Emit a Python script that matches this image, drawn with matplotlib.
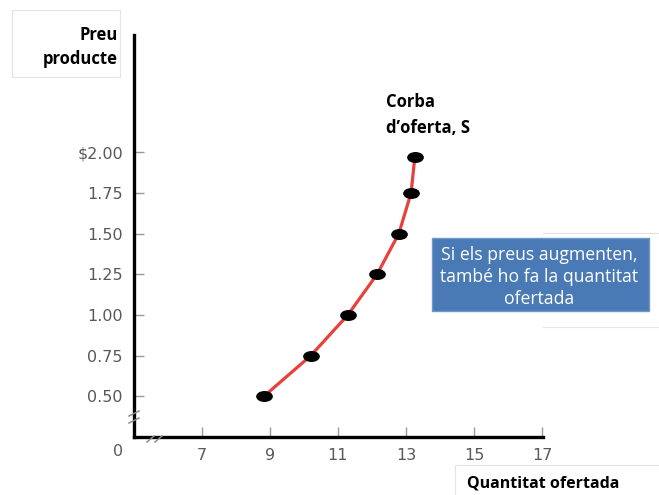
import matplotlib

matplotlib.use("Agg")
import matplotlib.pyplot as plt  # noqa: E402
from matplotlib.lines import Line2D  # noqa: E402
from matplotlib.patches import Rectangle  # noqa: E402
from matplotlib.path import Path  # noqa: E402
from matplotlib.transforms import Affine2D  # noqa: E402

W, H = 659, 495

# ---------------------------------------------------------------------------
# Data
# ---------------------------------------------------------------------------
quantity = [8.82, 10.2, 11.29, 12.15, 12.79, 13.15, 13.26]
price = [0.50, 0.75, 1.00, 1.25, 1.50, 1.75, 1.97]

x_ticks = [7, 9, 11, 13, 15, 17]
y_ticks = [0.50, 0.75, 1.00, 1.25, 1.50, 1.75, 2.00]
y_tick_labels = ["0.50", "0.75", "1.00", "1.25", "1.50", "1.75", "$2.00"]

y_title = "Preu\nproducte"
x_title = "Quantitat ofertada"
curve_label = "Corba\nd\u2019oferta, S"
note_text = "Si els preus augmenten,\ntamb\u00e9 ho fa la quantitat\nofertada"

BOLD = ["Open Sans", "DejaVu Sans"]
TICK_GRAY = "#595959"


def fx(px):
    return px / W


def fy(py):
    return 1 - py / H


fig = plt.figure(figsize=(W / 100, H / 100), dpi=100)
ax = fig.add_axes([fx(134), fy(437), (543 - 134) / W, (437 - 35) / H])

ellipse = Path.unit_circle().transformed(Affine2D().scale(1.6, 1.0))
ax.plot(quantity, price, color="#e8413c", lw=2.3, zorder=2,
        solid_capstyle="round")
ax.plot(quantity, price, ls="none", marker=ellipse, ms=11,
        color="black", zorder=3)

ax.set_xlim(5, 17.03)
ax.set_ylim(0.25, 2.72)

for side in ("top", "right"):
    ax.spines[side].set_visible(False)
for side in ("left", "bottom"):
    ax.spines[side].set_linewidth(2.4)
    ax.spines[side].set_color("black")

ax.set_xticks(x_ticks)
ax.set_xticklabels([str(t) for t in x_ticks])
ax.set_yticks(y_ticks)
ax.set_yticklabels(y_tick_labels)
ax.tick_params(direction="in", length=7, width=1, color="#999999",
               labelcolor=TICK_GRAY, labelsize=11.5, pad=8)
for lab in ax.get_xticklabels() + ax.get_yticklabels():
    lab.set_family("DejaVu Sans")

# "0" at the origin, left of the broken axes
fig.text(fx(118), fy(452), "0", ha="center", va="center",
         color=TICK_GRAY, fontsize=11.5)

# axis break marks
brk = dict(color="#8c8c8c", lw=1.1, transform=fig.transFigure)
for y0 in (416, 423):
    fig.add_artist(Line2D([fx(129), fx(139)], [fy(y0), fy(y0 - 5)], **brk))
for x0 in (147, 155):
    fig.add_artist(Line2D([fx(x0), fx(x0 + 7)], [fy(442), fy(436)], **brk))

# text boxes
light = dict(fc="white", ec="#e4e4e4", lw=0.8, transform=fig.transFigure,
             zorder=0)
fig.add_artist(Rectangle((fx(12), fy(77)), fx(108), (77 - 10) / H, **light))
fig.text(fx(118), fy(47), y_title, ha="right", va="center", fontsize=12,
         fontweight="bold", family=BOLD, linespacing=1.36)

fig.add_artist(Rectangle((fx(366), fy(142)), fx(92), (142 - 90) / H, **light))
fig.text(fx(386), fy(115), curve_label, ha="left", va="center", fontsize=12,
         fontweight="bold", family=BOLD, linespacing=1.62)

fig.add_artist(Rectangle((fx(455), fy(500)), fx(210), (500 - 465) / H,
                         **light))
fig.text(fx(467), fy(483), x_title, ha="left", va="center", fontsize=11.5,
         fontweight="bold", family=BOLD)

# blue note box with its faint shadow frame
fig.add_artist(Rectangle((fx(417), fy(327)), fx(250), (327 - 233) / H,
                         **light))
fig.add_artist(Rectangle((fx(432), fy(311)), fx(217), (311 - 238) / H,
                         fc="#4a7ab5", ec="#6f98cf", lw=1.0,
                         transform=fig.transFigure, zorder=1))
fig.text(fx(539), fy(277), note_text, ha="center", va="center",
         fontsize=12.7, color="white", family=["Open Sans", "DejaVu Sans"],
         linespacing=1.3, zorder=2)

fig.savefig("out.png", dpi=100)
